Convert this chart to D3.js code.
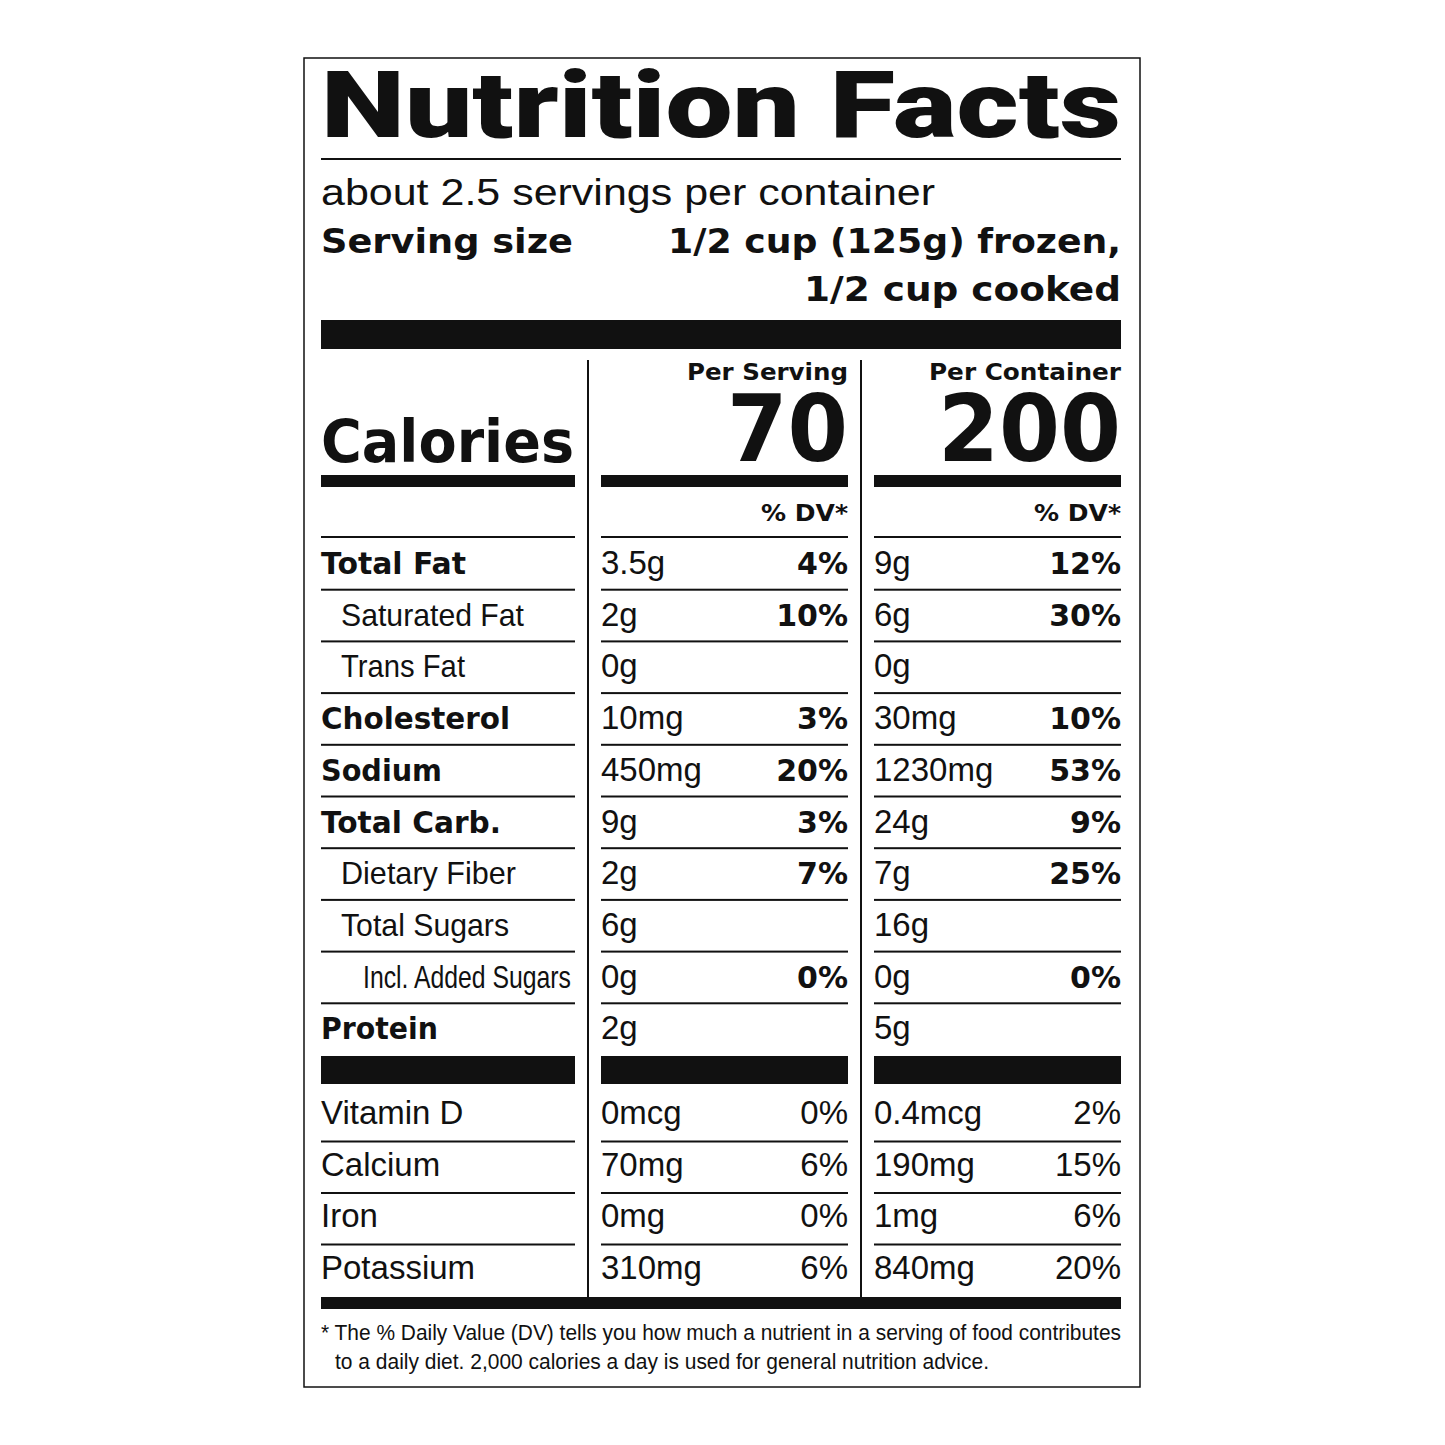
<!DOCTYPE html>
<html><head><meta charset="utf-8">
<script src="https://cdn.jsdelivr.net/npm/d3@7"></script>
<style>body{margin:0;background:#fff}text{font-family:"Liberation Sans",Arial,sans-serif;fill:#111}text.b{font-family:"DejaVu Sans",sans-serif}</style>
</head><body><svg id="c" width="1445" height="1445"></svg>
<script>
const nutrients=["Total Fat","Saturated Fat","Trans Fat","Cholesterol","Sodium","Total Carb.","Dietary Fiber","Total Sugars","Incl. Added Sugars","Protein"];
const boldRow=[1,0,0,1,1,1,0,0,0,1];
const indent=[0,1,1,0,0,0,1,1,2,0];
const servAmt=["3.5g","2g","0g","10mg","450mg","9g","2g","6g","0g","2g"];
const servDV=["4%","10%","","3%","20%","3%","7%","","0%",""];
const contAmt=["9g","6g","0g","30mg","1230mg","24g","7g","16g","0g","5g"];
const contDV=["12%","30%","","10%","53%","9%","25%","","0%",""];
const vitamins=["Vitamin D","Calcium","Iron","Potassium"];
const vServAmt=["0mcg","70mg","0mg","310mg"];
const vServDV=["0%","6%","0%","6%"];
const vContAmt=["0.4mcg","190mg","1mg","840mg"];
const vContDV=["2%","15%","6%","20%"];
const calories=[70,200];
const colHeads=["Per Serving","Per Container"];

const nameLen=[145,183,124,189,121,180,175,168,208,117];

const svg=d3.select("#c");
svg.append("rect").attr("x",304).attr("y",58).attr("width",836).attr("height",1329).attr("fill","none").attr("stroke","#111").attr("stroke-width",1.5);
const L=321,R=1121;
const cols=[[321,575],[601,848],[874,1121]];
const t=(x,y,s,txt,o={})=>{const e=svg.append("text").attr("x",x).attr("y",y).attr("font-size",s).attr("font-weight",o.w||400).attr("text-anchor",o.a||"start").text(txt);if(o.w==700)e.attr("class","b");if(o.len)e.attr("textLength",o.len).attr("lengthAdjust","spacingAndGlyphs");return e;};
const rect=(x1,y1,x2,y2)=>svg.append("rect").attr("x",x1).attr("y",y1).attr("width",x2-x1).attr("height",y2-y1).attr("fill","#111");

t(L,137,92,"Nutrition Facts",{w:900,len:800}).style("font-family","Roboto, 'Liberation Sans'");
rect(L,158,R,160);
t(L,205,37,"about 2.5 servings per container",{len:614});
t(L,253,34,"Serving size",{w:700,len:252});
t(R,253,34,"1/2 cup (125g) frozen,",{w:700,a:"end",len:453});
t(R,301,34,"1/2 cup cooked",{w:700,a:"end",len:317});
rect(L,320,R,349);
rect(587,360,589,1297);rect(860,360,862,1297);
t(848,380,23,colHeads[0],{w:700,a:"end",len:161});
t(1121,380,23,colHeads[1],{w:700,a:"end",len:192});
t(848,461,92,calories[0],{w:700,a:"end",len:121});
t(1121,461,92,calories[1],{w:700,a:"end",len:183});
t(L,462,58,"Calories",{w:700,len:253});
cols.forEach(c=>rect(c[0],475,c[1],487));
[1,2].forEach(i=>t(cols[i][1],521,23,"% DV*",{w:700,a:"end",len:87}));
cols.forEach(c=>rect(c[0],536,c[1],538));

const y=d3.scaleLinear().domain([0,1]).range([538,589.7]);
nutrients.forEach((n,i)=>{
  const base=y(i)+36;
  t(L+[0,20,42][indent[i]],base,boldRow[i]?30:32,n,{w:boldRow[i]?700:400,len:nameLen[i]});
  t(601,base,33,servAmt[i]);t(848,base,30,servDV[i],{w:700,a:"end"});
  t(874,base,33,contAmt[i]);t(1121,base,30,contDV[i],{w:700,a:"end"});
  if(i<nutrients.length-1)cols.forEach(c=>rect(c[0],y(i+1)-1,c[1],y(i+1)+1));
});
cols.forEach(c=>rect(c[0],1056,c[1],1084));
const yv=d3.scaleLinear().domain([0,1]).range([1088,1139.5]);
vitamins.forEach((v,i)=>{
  const base=yv(i)+36;
  t(L,base,33,v);t(601,base,33,vServAmt[i]);t(848,base,33,vServDV[i],{a:"end"});
  t(874,base,33,vContAmt[i]);t(1121,base,33,vContDV[i],{a:"end"});
  if(i<vitamins.length-1)cols.forEach(c=>rect(c[0],yv(i+1)+1,c[1],yv(i+1)+3));
});
rect(L,1297,R,1309);
t(L,1340,22,"* The % Daily Value (DV) tells you how much a nutrient in a serving of food contributes",{len:800});
t(335,1369,22,"to a daily diet. 2,000 calories a day is used for general nutrition advice.",{len:654});
</script></body></html>
